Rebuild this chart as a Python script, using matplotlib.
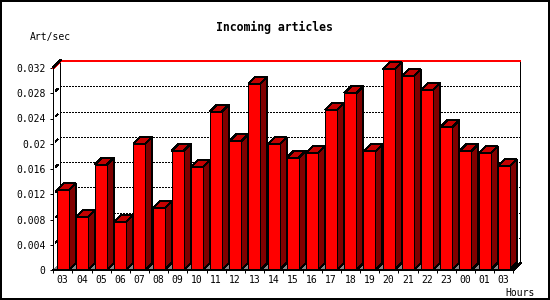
import matplotlib
matplotlib.use('Agg')
import matplotlib.pyplot as plt
from matplotlib.patches import Polygon, Rectangle
import numpy as np

# ---- data ----
hours = ['03', '04', '05', '06', '07', '08', '09', '10', '11', '12', '13', '14',
         '15', '16', '17', '18', '19', '20', '21', '22', '23', '00', '01', '03']
rates = [0.0126, 0.0084, 0.0167, 0.0076, 0.0200, 0.0098, 0.0189, 0.0163,
         0.0251, 0.0204, 0.0295, 0.0199, 0.0178, 0.0185, 0.0254, 0.0280,
         0.0188, 0.0318, 0.0307, 0.0285, 0.0226, 0.0188, 0.0185, 0.0164]
y_ticks = [0, 0.004, 0.008, 0.012, 0.016, 0.020, 0.024, 0.028, 0.032]
y_tick_labels = ['0', '0.004', '0.008', '0.012', '0.016', '0.02', '0.024', '0.028', '0.032']
title = 'Incoming articles'
y_label = 'Art/sec'
x_label = 'Hours'

MONO = 'DejaVu Sans Mono'
W, H = 550, 300
fig = plt.figure(figsize=(W / 100, H / 100), dpi=100)
fig.patch.set_facecolor('white')

L, R, T, B = 53.3, 513.4, 68.0, 270.0
ax = fig.add_axes([L / W, 1 - B / H, (R - L) / W, (B - T) / H])
n = len(hours)
ymax = y_ticks[-1]
ax.set_xlim(0, n)
ax.set_ylim(0, ymax)
px_x = n / (R - L)
px_y = ymax / (B - T)
DX = 7 * px_x
DY = 7 * px_y
LW = 0.72

for s in ax.spines.values():
    s.set_visible(False)
ax.patch.set_visible(False)

kw = dict(clip_on=False, antialiased=False)

# back plane
ax.add_patch(Rectangle((DX, DY), n, ymax + px_y, facecolor='white', edgecolor='black',
                       lw=LW, zorder=1, **kw))
# grid lines on back plane
for v in y_ticks[1:-1]:
    ax.plot([DX, n + DX], [v + DY, v + DY], color='black', lw=LW, ls=(0, (2, 2)),
            zorder=2, **kw)
    # small connector piece
    ax.plot([0.35 * DX, 0.6 * DX], [v + 0.35 * DY, v + 0.6 * DY], color='black',
            lw=LW, zorder=2, **kw)
# red line at max
ax.plot([0, DX, n + DX], [ymax, ymax + DY, ymax + DY], color='red', lw=LW, zorder=3, **kw)
# black left diagonal at top
ax.plot([0, DX], [ymax + px_y, ymax + DY + px_y], color='black', lw=LW, zorder=3, **kw)
# front y axis
ax.plot([0, 0], [0, ymax + px_y], color='black', lw=LW, zorder=3, **kw)

# floor
ax.add_patch(Polygon([(0, 0), (n, 0), (n + DX, DY), (DX, DY)], closed=True,
                     facecolor='#888888', edgecolor='none', zorder=3, **kw))

# bars
off = 0.18
bw = 12 * px_x
for i, v in enumerate(rates):
    x0 = i + off
    x1 = x0 + bw
    ax.add_patch(Polygon([(x1, 0), (x1 + DX, DY), (x1 + DX, v + DY), (x1, v)], closed=True,
                         facecolor='#800000', edgecolor='black', lw=LW, zorder=5, **kw))
    ax.add_patch(Polygon([(x0, v), (x1, v), (x1 + DX, v + DY), (x0 + DX, v + DY)], closed=True,
                         facecolor='#C40000', edgecolor='black', lw=LW, zorder=5, **kw))
    ax.add_patch(Rectangle((x0, 0), bw, v, facecolor='#FF0000', edgecolor='black',
                           lw=LW, zorder=5, **kw))

# floor front edge and right diagonal
ax.plot([0, n, n + DX], [0, 0, DY], color='black', lw=LW, zorder=6, **kw)

# ticks
ax.set_xticks(np.arange(n + 1))
ax.set_xticklabels([])
ax.set_xticks(np.arange(n) + 0.49, minor=True)
ax.set_xticklabels(hours, minor=True, fontfamily=MONO, fontsize=7)
ax.tick_params(axis='x', which='major', length=2.2, width=LW, direction='out')
ax.tick_params(axis='x', which='minor', length=0, pad=3.5)
ax.set_yticks(y_ticks)
ax.set_yticklabels(y_tick_labels, fontfamily=MONO, fontsize=7)
ax.tick_params(axis='y', length=2.2, width=LW, direction='out', pad=3.5)

# texts
fig.text(274 / W, 1 - 27.3 / H, title, ha='center', va='center', fontfamily=MONO,
         fontweight='bold', fontsize=8.3)
fig.text(30 / W, 1 - 37 / H, y_label, ha='left', va='center', fontfamily=MONO, fontsize=7)
fig.text(505 / W, 1 - 292.5 / H, x_label, ha='left', va='center', fontfamily=MONO, fontsize=7)

# outer frame
fig.add_artist(Rectangle((0.8 / W, 0.8 / H), (W - 1.6) / W, (H - 1.6) / H,
                         transform=fig.transFigure, fill=False, edgecolor='black',
                         lw=1.1, antialiased=False))

fig.savefig('out.png', dpi=100)
